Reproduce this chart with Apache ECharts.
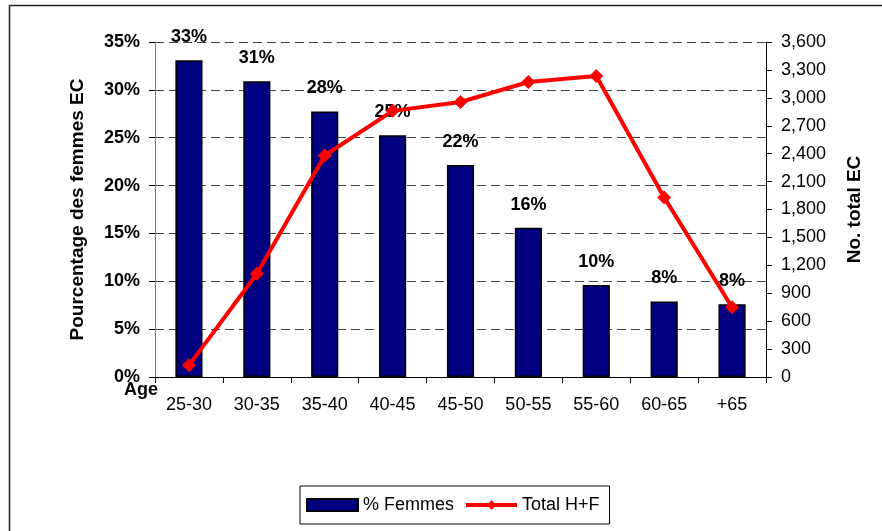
<!DOCTYPE html>
<html>
<head>
<meta charset="utf-8">
<script src="https://cdn.jsdelivr.net/npm/echarts@6/dist/echarts.min.js"></script>
<style>
html,body{margin:0;padding:0;background:#fff;}
#chart{width:882px;height:531px;}
</style>
</head>
<body>
<div id="chart"></div>
<script>
var categories = ['25-30','30-35','35-40','40-45','45-50','50-55','55-60','60-65','+65'];
var pctFemmes = [0.331, 0.309, 0.2775, 0.2525, 0.2215, 0.156, 0.096, 0.079, 0.076];
var totalHF = [125, 1110, 2380, 2860, 2955, 3170, 3235, 1930, 750];
var leftTicks = {min: 0, max: 0.35, interval: 0.05};
var rightTicks = {min: 0, max: 3600, interval: 300};

var FONT = '"Liberation Sans", Arial, sans-serif';
var chart = echarts.init(document.getElementById('chart'), null, {renderer: 'canvas'});

chart.setOption({
  backgroundColor: '#ffffff',
  animation: false,
  textStyle: {fontFamily: FONT},
  graphic: [
    {type: 'rect', shape: {x: 9.5, y: 5.5, width: 900, height: 600}, style: {fill: 'none', stroke: '#222', lineWidth: 1.5}, silent: true, z: -10},
    {type: 'text', left: 124, top: 381, style: {text: 'Age', font: 'bold 18px ' + FONT, fill: '#000'}}
  ],
  grid: {left: 155, right: 116, top: 42, bottom: 154},
  legend: {
    left: 300, top: 486,
    padding: [10, 10, 10, 6],
    borderColor: '#000', borderWidth: 1,
    itemWidth: 51, itemHeight: 12, itemGap: 10,
    lineStyle: {width: 4},
    textStyle: {fontSize: 18, color: '#000', fontFamily: FONT},
    data: [{name: '% Femmes', icon: 'rect'}, {name: 'Total H+F'}]
  },
  xAxis: {
    type: 'category',
    data: categories,
    boundaryGap: true,
    axisLine: {lineStyle: {color: '#000', width: 1}},
    axisTick: {show: true, length: 6, inside: false, alignWithLabel: false, lineStyle: {color: '#000'}},
    axisLabel: {fontSize: 18, color: '#000', margin: 19, fontFamily: FONT, interval: 0}
  },
  yAxis: [
    {
      type: 'value', position: 'left',
      min: leftTicks.min, max: leftTicks.max, interval: leftTicks.interval,
      name: 'Pourcentage des femmes EC', nameLocation: 'middle', nameGap: 68,
      nameTextStyle: {fontSize: 19, fontWeight: 'bold', color: '#000', fontFamily: FONT},
      axisLine: {show: true, lineStyle: {color: '#808080', width: 1}},
      axisTick: {show: true, length: 6, lineStyle: {color: '#000'}},
      axisLabel: {fontSize: 18, fontWeight: 'bold', color: '#000', margin: 15, fontFamily: FONT,
        formatter: function (v) { return Math.round(v * 100) + '%'; }},
      splitLine: {show: true, lineStyle: {color: '#444', type: [9, 5], width: 1}}
    },
    {
      type: 'value', position: 'right',
      min: rightTicks.min, max: rightTicks.max, interval: rightTicks.interval,
      name: 'No. total EC', nameLocation: 'middle', nameGap: 79,
      nameTextStyle: {fontSize: 19, fontWeight: 'bold', color: '#000', fontFamily: FONT},
      axisLine: {show: true, lineStyle: {color: '#000', width: 1}},
      axisTick: {show: true, length: 6, lineStyle: {color: '#000'}},
      axisLabel: {fontSize: 18, color: '#000', margin: 15, fontFamily: FONT,
        formatter: function (v) { return v.toLocaleString('en-US'); }},
      splitLine: {show: false}
    }
  ],
  series: [
    {
      name: '% Femmes', type: 'bar', yAxisIndex: 0,
      data: pctFemmes,
      barWidth: '40%',
      itemStyle: {color: '#000080', borderColor: '#000', borderWidth: 1.5},
      label: {show: true, position: 'top', distance: 14, fontSize: 18, fontWeight: 'bold', color: '#000', fontFamily: FONT,
        formatter: function (p) { return Math.round(p.value * 100) + '%'; }},
      z: 2
    },
    {
      name: 'Total H+F', type: 'line', yAxisIndex: 1,
      data: totalHF,
      symbol: 'diamond', symbolSize: 14,
      lineStyle: {color: '#ff0000', width: 4},
      itemStyle: {color: '#ff0000'},
      z: 3
    }
  ]
});
</script>
</body>
</html>
